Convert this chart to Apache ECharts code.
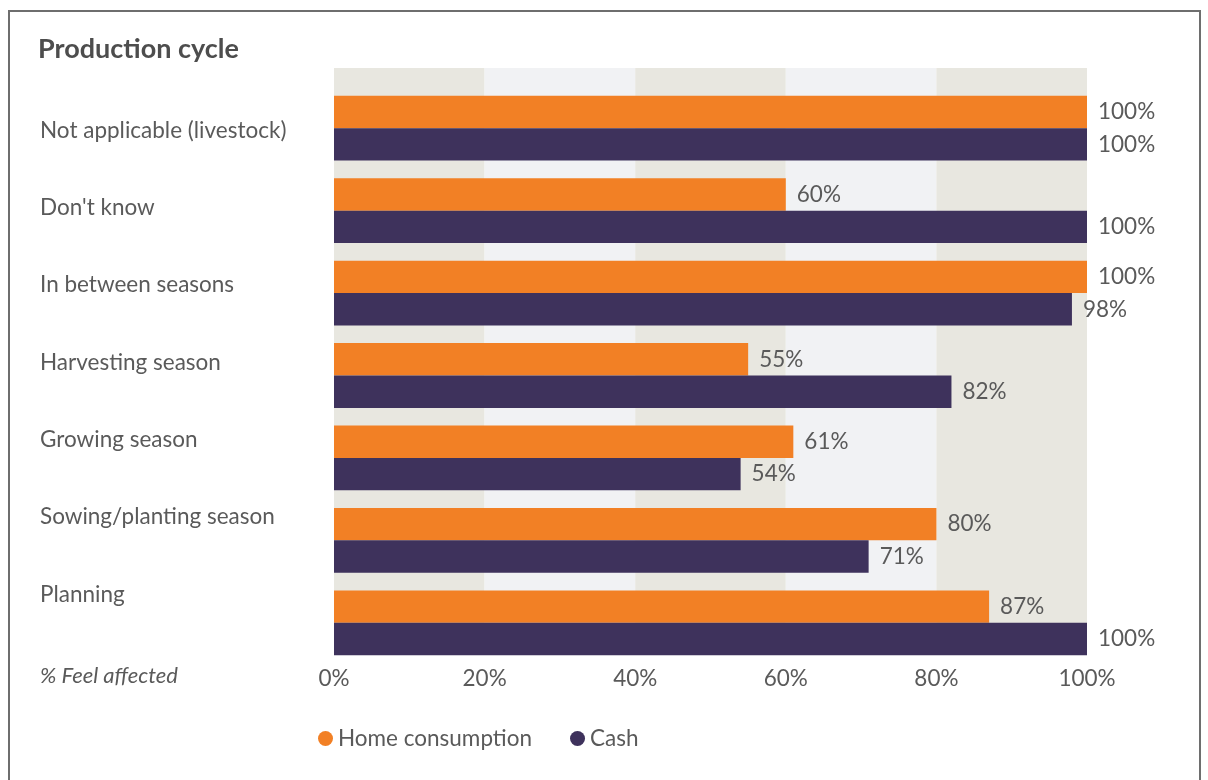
<!DOCTYPE html>
<html>
<head>
<meta charset="utf-8">
<script src="https://cdn.jsdelivr.net/npm/echarts@6/dist/echarts.min.js"></script>
<style>
  html, body { margin: 0; padding: 0; background: #ffffff; }
  #chart { width: 1208px; height: 780px; }
</style>
</head>
<body>
<div id="chart"></div>
<script>
// Production cycle: share of respondents who feel affected, by stage
const categories = [
  'Not applicable (livestock)',
  "Don't know",
  'In between seasons',
  'Harvesting season',
  'Growing season',
  'Sowing/planting season',
  'Planning'
];
const homeConsumption = [100, 60, 100, 55, 61, 80, 87];
const cash = [100, 100, 98, 82, 54, 71, 100];
const seriesNames = ['Home consumption', 'Cash'];
const xTicks = [0, 20, 40, 60, 80, 100];

const ORANGE = '#f28025';
const PURPLE = '#3e325c';
const TEXT = '#5a5a5a';
const FONT = 'Lato, "Open Sans", sans-serif';

const chart = echarts.init(document.getElementById('chart'), null, { renderer: 'canvas' });

const valueLabel = {
  show: true,
  position: 'right',
  distance: 11,
  color: TEXT,
  fontFamily: FONT,
  fontSize: 22.5,
  formatter: p => p.value + '%'
};

chart.setOption({
  backgroundColor: '#ffffff',
  animation: false,
  textStyle: { fontFamily: FONT },
  title: {
    text: 'Production cycle',
    left: 33,
    top: 31,
    textStyle: { fontFamily: FONT, fontSize: 27, fontWeight: 'bold', color: '#4d4d4d' }
  },
  legend: {
    data: seriesNames,
    left: 313,
    top: 722,
    icon: 'circle',
    itemWidth: 15,
    itemHeight: 15,
    itemGap: 38,
    textStyle: { fontFamily: FONT, fontSize: 22.5, color: TEXT }
  },
  graphic: [
    {
      type: 'rect',
      shape: { x: 9, y: 11, width: 1191, height: 800 },
      style: { fill: null, stroke: '#6e6e6e', lineWidth: 2 },
      silent: true,
      z: -10
    },
    {
      type: 'text',
      left: 40,
      top: 665,
      style: { text: '% Feel affected', fontFamily: FONT, fontSize: 22, fontStyle: 'italic', fill: TEXT }
    }
  ],
  grid: [
    // banded background and percentage ticks
    { left: 334, right: 121, top: 68, bottom: 125 },
    // bars
    { left: 334, right: 121, top: 87, bottom: 116 },
    // category names
    { left: 334, right: 121, top: 92, bottom: 147 }
  ],
  xAxis: [
    {
      gridIndex: 0, type: 'value', min: 0, max: 100, interval: 20,
      axisLine: { show: false }, axisTick: { show: false }, splitLine: { show: false },
      splitArea: { show: true, areaStyle: { color: ['#e8e7e0', '#f1f2f4'] } },
      axisLabel: {
        margin: 12, color: TEXT, fontFamily: FONT, fontSize: 22.5,
        formatter: v => (xTicks.indexOf(v) >= 0 ? v + '%' : '')
      }
    },
    {
      gridIndex: 1, type: 'value', min: 0, max: 100,
      show: false
    },
    {
      gridIndex: 2, type: 'value', min: 0, max: 100,
      show: false
    }
  ],
  yAxis: [
    { gridIndex: 0, type: 'value', show: false },
    {
      gridIndex: 1, type: 'category', data: categories, inverse: true,
      axisLine: { show: false }, axisTick: { show: false }, axisLabel: { show: false },
      splitLine: { show: false }
    },
    {
      gridIndex: 2, type: 'category', data: categories, inverse: true,
      axisLine: { show: false }, axisTick: { show: false }, splitLine: { show: false },
      axisLabel: {
        align: 'left', margin: 294, color: TEXT, fontFamily: FONT, fontSize: 22.5
      }
    }
  ],
  series: [
    {
      name: seriesNames[0], type: 'bar', xAxisIndex: 1, yAxisIndex: 1,
      data: homeConsumption, itemStyle: { color: ORANGE },
      barGap: '0%', barCategoryGap: '21.4%', label: valueLabel
    },
    {
      name: seriesNames[1], type: 'bar', xAxisIndex: 1, yAxisIndex: 1,
      data: cash, itemStyle: { color: PURPLE },
      barGap: '0%', barCategoryGap: '21.4%', label: valueLabel
    }
  ]
});
</script>
</body>
</html>
